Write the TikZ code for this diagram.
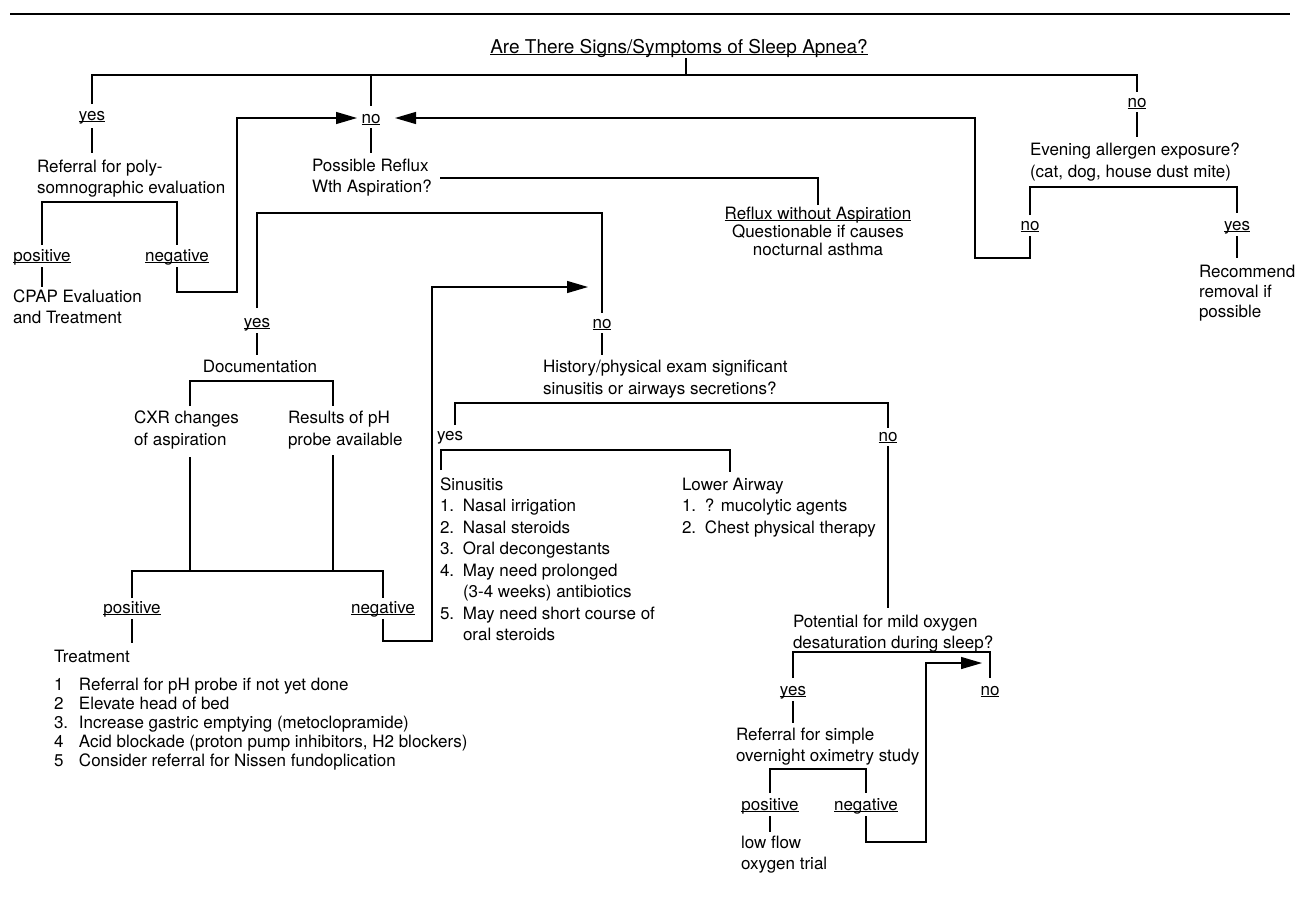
\documentclass[tikz,border=0pt]{standalone}
\usepackage{fontspec}
\setmainfont{TeX Gyre Heros}
\usetikzlibrary{arrows.meta}
\newcommand{\uln}[1]{\setbox0\hbox{#1}\rlap{\rule[-1.6pt]{\wd0}{1pt}}\box0}
\begin{document}
\begin{tikzpicture}[x=1pt,y=-1pt,
  every node/.style={inner sep=0pt,outer sep=0pt,font=\fontsize{17}{21}\selectfont},
  txt/.style={anchor=base west,align=left},
  lab/.style={anchor=base},
  ln/.style={line width=1.3pt},
  arr/.style={line width=1.3pt,-{Triangle[length=21pt,width=12pt]}}]
\useasboundingbox (0,0) rectangle (1303,908);
\draw[line width=2pt] (10,14) -- (1290,14);
% title
\node[lab,font=\fontsize{19}{23}\selectfont] (title) at (679,53) {\uln{Are There Signs/Symptoms of Sleep Apnea?}};
\draw[ln] (686,58) -- (686,75);
\draw[ln] (92,104) |- (1137,75) -- (1137,92);
\draw[ln] (371,75) -- (371,106);
% left branch
\node[lab] (yes1) at (92,120) {\uln{yes}};
\draw[ln] (92,128) -- (92,153);
\node[txt] (poly) at (37,193) {Referral for poly-\\somnographic evaluation};
\draw[ln] (42,245) |- (177,202) -- (177,245);
\node[lab] (pos1) at (42,261) {\uln{positive}};
\node[lab] (neg1) at (177,261) {\uln{negative}};
\draw[ln] (42,267) -- (42,287);
\node[txt] (cpap) at (13,323) {CPAP Evaluation\\and Treatment};
\draw[arr] (177,267) -- (177,292) -- (237,292) -- (237,118) -- (357,118);
% middle no
\node[lab] (no2) at (371,123) {\uln{no}};
\draw[ln] (371,128) -- (371,153);
\node[txt] (reflux) at (312,192) {Possible Reflux\\Wth Aspiration?};
\draw[ln] (440,178) -| (818,205);
\node[lab,align=center,font=\fontsize{17}{18}\selectfont] (woasp) at (818,255) {\uln{Reflux without Aspiration}\\Questionable if causes\\nocturnal asthma};
% right branch
\node[lab] (no1) at (1137,107) {\uln{no}};
\draw[ln] (1137,112) -- (1137,137);
\node[txt,font=\fontsize{17}{22}\selectfont] (even) at (1030,177) {Evening allergen exposure?\\(cat, dog, house dust mite)};
\draw[ln] (1030,215) |- (1237,187) -- (1237,213);
\node[lab] (no3) at (1030,230) {\uln{no}};
\node[lab] (yes3) at (1237,230) {\uln{yes}};
\draw[arr] (1030,236) -- (1030,258) -- (975,258) -- (975,118) -- (395,118);
\draw[ln] (1237,236) -- (1237,258);
\node[txt,font=\fontsize{17}{20}\selectfont] (recom) at (1199,317) {Recommend\\removal if\\possible};
% reflux yes/no
\draw[ln] (257,308) |- (602,213) -- (602,313);
\node[lab] (yes4) at (257,327) {\uln{yes}};
\draw[ln] (257,333) -- (257,355);
\node[lab] (doc) at (260,372) {Documentation};
\draw[ln] (190,406) |- (333,381) -- (333,406);
\node[txt,font=\fontsize{17}{22}\selectfont] (cxr) at (134,445) {CXR changes\\of aspiration};
\node[txt,font=\fontsize{17}{22}\selectfont] (ph) at (288,445) {Results of pH\\probe available};
\draw[ln] (190,457) -- (190,571);
\draw[ln] (333,455) -- (333,571);
\draw[ln] (132,598) |- (383,571) -- (383,598);
\node[lab] (pos5) at (132,613) {\uln{positive}};
\node[lab] (neg5) at (383,613) {\uln{negative}};
\draw[ln] (132,619) -- (132,643);
\node[txt] (treat) at (54,662) {Treatment};
\node[txt,font=\fontsize{17}{19}\selectfont] (tlist) at (54,766) {\makebox[25pt][l]{1}Referral for pH probe if not yet done\\
\makebox[25pt][l]{2}Elevate head of bed\\
\makebox[25pt][l]{3.}Increase gastric emptying (metoclopramide)\\
\makebox[25pt][l]{4}Acid blockade (proton pump inhibitors, H2 blockers)\\
\makebox[25pt][l]{5}Consider referral for Nissen fundoplication};
\draw[arr] (383,619) -- (383,641) -- (432,641) -- (432,287) -- (588,287);
% reflux no
\node[lab] (no6) at (602,328) {\uln{no}};
\draw[ln] (602,333) -- (602,355);
\node[txt,font=\fontsize{17}{22}\selectfont] (hist) at (543,394) {History/physical exam significant\\sinusitis or airways secretions?};
\draw[ln] (455,425) |- (888,403) -- (888,428);
\node[txt] (yes7) at (437,440) {yes};
\node[lab] (no7) at (888,441) {\uln{no}};
\draw[ln] (441,470) |- (730,450) -- (730,472);
\node[txt,font=\fontsize{17}{21.5}\selectfont] (sinus) at (440,640.5) {Sinusitis\\
\makebox[23pt][l]{1.}Nasal irrigation\\
\makebox[23pt][l]{2.}Nasal steroids\\
\makebox[23pt][l]{3.}Oral decongestants\\
\makebox[23pt][l]{4.}May need prolonged\\
\makebox[23pt][l]{}(3-4 weeks) antibiotics\\
\makebox[23pt][l]{5.}May need short course of\\
\makebox[23pt][l]{}oral steroids};
\node[txt,font=\fontsize{17}{21.5}\selectfont] (lower) at (682,533) {Lower Airway\\
\makebox[23pt][l]{1.}? mucolytic agents\\
\makebox[23pt][l]{2.}Chest physical therapy};
\draw[ln] (888,446) -- (888,608);
\node[txt] (pot) at (793,648) {Potential for mild oxygen\\desaturation during sleep?};
\draw[ln] (793,678) |- (990,652) -- (990,678);
\node[lab] (yes8) at (793,695) {\uln{yes}};
\node[lab] (no8) at (990,695) {\uln{no}};
\draw[ln] (793,701) -- (793,723);
\node[txt] (oxi) at (736,761) {Referral for simple\\overnight oximetry study};
\draw[ln] (770,793) |- (866,769) -- (866,793);
\node[lab] (pos9) at (770,810) {\uln{positive}};
\node[lab] (neg9) at (866,810) {\uln{negative}};
\draw[ln] (770,816) -- (770,832);
\node[txt] (o2) at (741,869) {low flow\\oxygen trial};
\draw[arr] (866,816) -- (866,842) -- (926,842) -- (926,663) -- (982,663);
\end{tikzpicture}
\end{document}
